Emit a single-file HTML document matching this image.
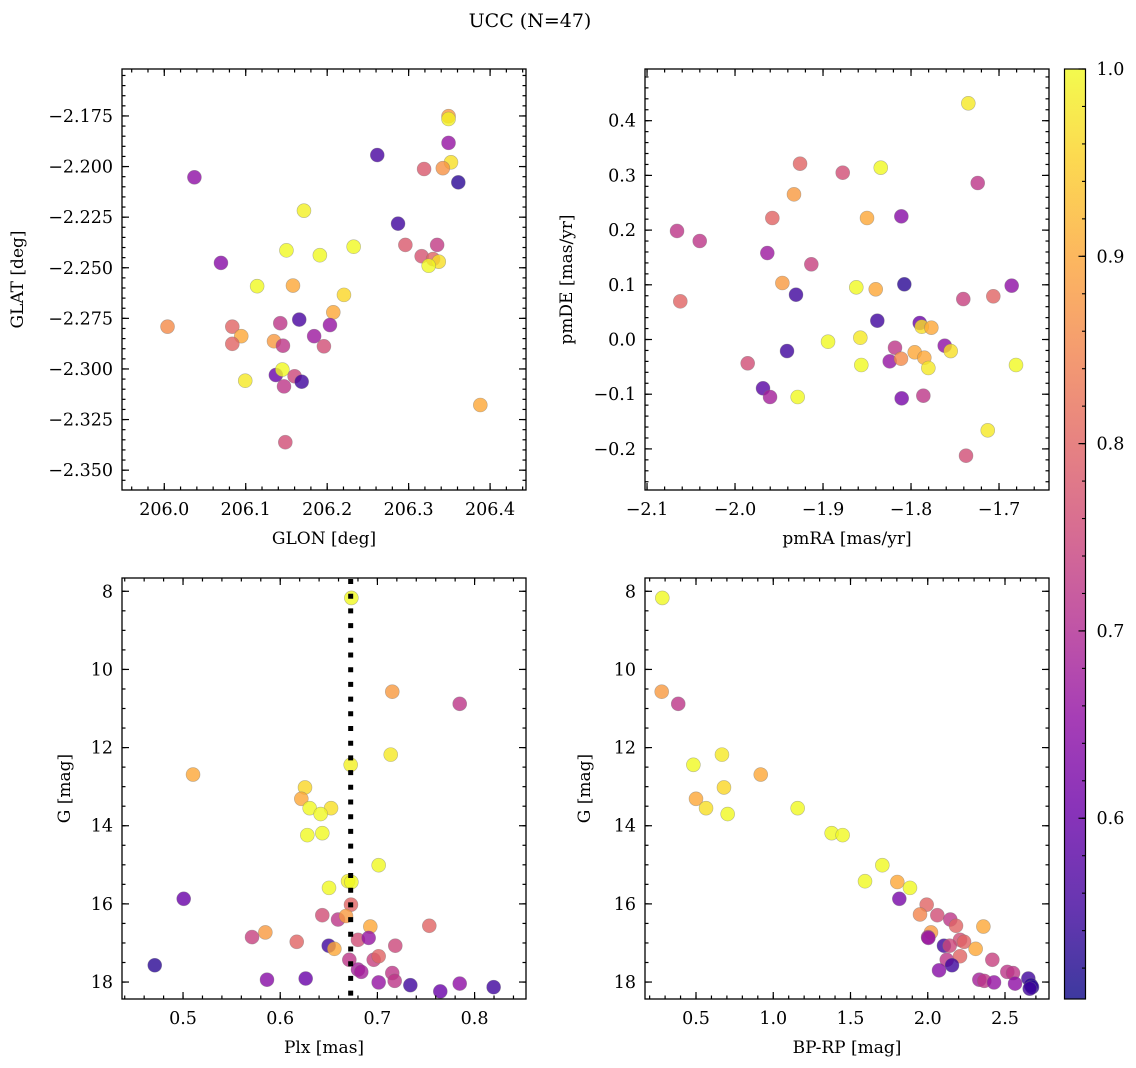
<!DOCTYPE html>
<html><head><meta charset="utf-8"><style>
html,body{margin:0;padding:0;background:#fff;}
svg{display:block;font-family:"DejaVu Serif","Liberation Serif",serif;}
</style></head><body>
<svg id="fig" width="1136" height="1068" viewBox="0 0 1136 1068" xmlns="http://www.w3.org/2000/svg">
<defs>
<linearGradient id="plasma" x1="0" y1="1" x2="0" y2="0">
<stop offset="0" stop-color="#0d0887"/><stop offset="0.1" stop-color="#41049d"/><stop offset="0.2" stop-color="#6a00a8"/><stop offset="0.3" stop-color="#8f0da4"/><stop offset="0.4" stop-color="#b12a90"/><stop offset="0.5" stop-color="#cc4778"/><stop offset="0.6" stop-color="#e16462"/><stop offset="0.7" stop-color="#f2844b"/><stop offset="0.8" stop-color="#fca636"/><stop offset="0.9" stop-color="#fcce25"/><stop offset="1" stop-color="#f0f921"/>
</linearGradient>
</defs>
<text x="530" y="27" font-size="19" text-anchor="middle">UCC (N=47)</text>
</svg>
<script>
// ---- data ----
const tlLon=[206.037,206.2615,206.349,206.349,206.349,206.352,206.319,206.342,206.361,206.1715,206.287,206.0696,206.150,206.191,206.2325,206.296,206.335,206.316,206.330,206.337,206.3246,206.114,206.158,206.2206,206.2075,206.004,206.0835,206.1424,206.1657,206.2034,206.0945,206.0835,206.1347,206.1457,206.184,206.196,206.0994,206.137,206.145,206.160,206.1687,206.147,206.388,206.1486];
const tlLat=[-2.2053,-2.1943,-2.1751,-2.1765,-2.1883,-2.1979,-2.2012,-2.2008,-2.2078,-2.2218,-2.2282,-2.2476,-2.2414,-2.2438,-2.2396,-2.2387,-2.2387,-2.2443,-2.2457,-2.2470,-2.249,-2.2591,-2.2588,-2.2634,-2.272,-2.2791,-2.2791,-2.2774,-2.2756,-2.2783,-2.2838,-2.2876,-2.2863,-2.2885,-2.2838,-2.2888,-2.3058,-2.303,-2.3003,-2.3036,-2.3063,-2.3086,-2.3178,-2.3362];
const tlProb=[0.65,0.56,0.88,0.99,0.66,0.97,0.78,0.87,0.53,0.99,0.55,0.64,1.0,1.0,1.0,0.78,0.73,0.77,0.8,0.97,1.0,1.0,0.9,0.96,0.9,0.86,0.8,0.72,0.56,0.66,0.9,0.8,0.88,0.72,0.67,0.76,0.98,0.6,1.0,0.75,0.55,0.72,0.9,0.76];

const trRA=[-1.7349,-1.9261,-1.8776,-1.8344,-1.7242,-1.933,-1.9576,-1.85,-1.811,-2.0659,-2.0401,-1.9633,-1.9133,-1.9462,-1.9307,-2.0622,-1.8622,-1.8401,-1.8076,-1.7406,-1.7065,-1.6856,-1.8383,-1.7901,-1.7878,-1.7769,-1.8943,-1.8576,-1.9409,-1.8182,-1.7617,-1.7549,-1.7958,-1.9856,-1.8242,-1.8114,-1.7849,-1.8565,-1.7803,-1.6807,-1.9682,-1.9602,-1.9288,-1.8106,-1.786,-1.7128,-1.7375];
const trDE=[0.4318,0.3214,0.3049,0.3141,0.2861,0.2654,0.2221,0.2221,0.2252,0.1984,0.1801,0.1581,0.1375,0.1033,0.0819,0.0698,0.0954,0.0918,0.1009,0.074,0.079,0.0984,0.0344,0.0302,0.0234,0.0216,-0.004,0.0033,-0.0211,-0.015,-0.0113,-0.0211,-0.0234,-0.0435,-0.0399,-0.0351,-0.0333,-0.0466,-0.0521,-0.0466,-0.0892,-0.1051,-0.1051,-0.1075,-0.1027,-0.166,-0.2124];
const trProb=[0.98,0.8,0.76,1.0,0.72,0.88,0.8,0.9,0.64,0.72,0.72,0.67,0.74,0.88,0.55,0.8,1.0,0.9,0.53,0.74,0.8,0.65,0.55,0.6,0.97,0.9,1.0,0.98,0.55,0.72,0.65,0.97,0.9,0.76,0.66,0.86,0.9,1.0,0.98,1.0,0.58,0.68,1.0,0.62,0.72,0.98,0.76];

const blPlx=[0.6732,0.7153,0.7847,0.7137,0.6725,0.5103,0.6255,0.6217,0.6303,0.6523,0.6416,0.6279,0.6433,0.7013,0.6502,0.6698,0.6732,0.5007,0.6728,0.6433,0.6595,0.6677,0.7534,0.6927,0.5847,0.571,0.617,0.68,0.691,0.7184,0.6499,0.6557,0.6711,0.6962,0.7013,0.4709,0.68,0.6834,0.7153,0.7178,0.7013,0.5864,0.6262,0.7339,0.7647,0.7847,0.8196];
const blG=[8.17,10.57,10.88,12.18,12.44,12.69,13.02,13.31,13.55,13.55,13.70,14.24,14.19,15.01,15.59,15.42,15.44,15.87,16.02,16.29,16.40,16.31,16.56,16.58,16.73,16.85,16.97,16.92,16.87,17.07,17.07,17.15,17.43,17.43,17.34,17.57,17.68,17.74,17.77,17.97,18.01,17.94,17.91,18.08,18.24,18.04,18.13];
const blProb=[1.0,0.88,0.72,0.98,0.99,0.9,0.96,0.9,1.0,0.97,1.0,1.0,1.0,1.0,1.0,0.99,1.0,0.6,0.8,0.76,0.72,0.88,0.8,0.9,0.88,0.74,0.8,0.76,0.66,0.75,0.55,0.9,0.72,0.74,0.8,0.53,0.68,0.68,0.72,0.72,0.66,0.64,0.6,0.55,0.6,0.65,0.55];
const plxLine=0.6725;

const brCol=[0.282,0.278,0.385,0.668,0.483,0.919,0.681,0.5,0.565,1.158,0.705,1.378,1.449,1.706,1.594,1.803,1.885,1.816,1.993,1.95,2.062,2.146,2.183,2.36,2.021,2.002,2.004,2.209,2.235,2.105,2.142,2.31,2.123,2.209,2.418,2.157,2.073,2.515,2.552,2.334,2.366,2.429,2.565,2.651,2.668,2.675,2.66];
const brG=[8.17,10.57,10.88,12.18,12.44,12.69,13.02,13.31,13.55,13.55,13.70,14.19,14.24,15.01,15.42,15.44,15.59,15.87,16.02,16.27,16.29,16.40,16.56,16.58,16.73,16.85,16.87,16.92,16.97,17.07,17.07,17.15,17.43,17.34,17.43,17.57,17.70,17.74,17.77,17.94,17.97,18.01,18.04,17.91,18.08,18.13,18.17];
const brProb=[1.0,0.88,0.72,0.98,1.0,0.9,0.96,0.9,0.97,1.0,1.0,1.0,1.0,1.0,1.0,0.9,1.0,0.62,0.8,0.85,0.76,0.72,0.8,0.9,0.88,0.72,0.66,0.76,0.8,0.55,0.75,0.9,0.72,0.8,0.74,0.55,0.64,0.72,0.72,0.68,0.72,0.66,0.65,0.55,0.53,0.53,0.55];

const tlXTicks=[206.0,206.1,206.2,206.3,206.4];
const tlYTicks=[-2.175,-2.2,-2.225,-2.25,-2.275,-2.3,-2.325,-2.35];
const trXTicks=[-2.1,-2.0,-1.9,-1.8,-1.7];
const trYTicks=[0.4,0.3,0.2,0.1,0.0,-0.1,-0.2];
const blXTicks=[0.5,0.6,0.7,0.8];
const gTicks=[8,10,12,14,16,18];
const brXTicks=[0.5,1.0,1.5,2.0,2.5];
const cbTicks=[0.6,0.7,0.8,0.9,1.0];
const vmin=0.5035, vmax=1.0;

// ---- rendering ----
const NS='http://www.w3.org/2000/svg';
const svg=document.getElementById('fig');
const stops=['#0d0887','#41049d','#6a00a8','#8f0da4','#b12a90','#cc4778','#e16462','#f2844b','#fca636','#fcce25','#f0f921'];
function hex(h){return [parseInt(h.substr(1,2),16),parseInt(h.substr(3,2),16),parseInt(h.substr(5,2),16)];}
function cmap(p){let t=(p-vmin)/(vmax-vmin);t=Math.max(0,Math.min(1,t))*10;const i=Math.min(9,Math.floor(t)),f=t-i;const a=hex(stops[i]),b=hex(stops[i+1]);return 'rgb('+a.map((v,k)=>Math.round(v+(b[k]-v)*f)).join(',')+')';}
function mk(tag,attrs,parent){const e=document.createElementNS(NS,tag);for(const k in attrs)e.setAttribute(k,attrs[k]);(parent||svg).appendChild(e);return e;}
function fmt(v,d){const s=v.toFixed(d);return v<0?'\u2212'+s.substr(1):s;}
const TFS=17.5, LFS=17;

function panel(name,px0,py0,px1,py1,xmin,xmax,ymin,ymax,yinv,xt,xd,xminor,yt,yd,yminor,xlabel,ylabel,ylx,xs,ys,ps){
  const g=mk('g',{});
  
  
  const X=v=>px0+(v-xmin)/(xmax-xmin)*(px1-px0);
  const Y=v=>yinv? py0+(v-ymin)/(ymax-ymin)*(py1-py0) : py1-(v-ymin)/(ymax-ymin)*(py1-py0);
  const pts=mk('g',{},g);
  
  
  for(let i=0;i<xs.length;i++){
    const c=mk('circle',{cx:X(xs[i]).toFixed(2),cy:Y(ys[i]).toFixed(2),r:7,fill:cmap(ps[i]),'fill-opacity':0.8,stroke:'#777','stroke-opacity':0.5,'stroke-width':0.6},pts);
    
    
  }
  const ax=mk('g',{stroke:'#000','stroke-width':1.2},g);
  
  
  const lo=Math.min(xmin,xmax),hi=Math.max(xmin,xmax);
  for(let v=Math.ceil(lo/xminor-1e-6)*xminor;v<=hi+1e-9;v+=xminor){const x=X(v);mk('line',{x1:x,y1:py1,x2:x,y2:py1-3.5},ax);mk('line',{x1:x,y1:py0,x2:x,y2:py0+3.5},ax);}
  const ylo=Math.min(ymin,ymax),yhi=Math.max(ymin,ymax);
  for(let v=Math.ceil(ylo/yminor-1e-6)*yminor;v<=yhi+1e-9;v+=yminor){const y=Y(v);mk('line',{x1:px0,y1:y,x2:px0+3.5,y2:y},ax);mk('line',{x1:px1,y1:y,x2:px1-3.5,y2:y},ax);}
  xt.forEach(v=>{const x=X(v);mk('line',{x1:x,y1:py1,x2:x,y2:py1-7},ax);mk('line',{x1:x,y1:py0,x2:x,y2:py0+7},ax);
    const t=mk('text',{x:x,y:py1+25,'font-size':TFS,'text-anchor':'middle',stroke:'none'},g);t.textContent=fmt(v,xd);
    });
  yt.forEach(v=>{const y=Y(v);mk('line',{x1:px0,y1:y,x2:px0+7,y2:y},ax);mk('line',{x1:px1,y1:y,x2:px1-7,y2:y},ax);
    const t=mk('text',{x:px0-9,y:y+6,'font-size':TFS,'text-anchor':'end',stroke:'none'},g);t.textContent=fmt(v,yd);
    });
  const fr=mk('rect',{x:px0,y:py0,width:px1-px0,height:py1-py0,fill:'none',stroke:'#000','stroke-width':1.3},g);
  
  const xl=mk('text',{x:(px0+px1)/2,y:py1+54,'font-size':LFS,'text-anchor':'middle'},g);xl.textContent=xlabel;
  
  const cy=(py0+py1)/2;
  const yl=mk('text',{x:ylx,y:cy,'font-size':LFS,'text-anchor':'middle',transform:'rotate(-90 '+ylx+' '+cy+')'},g);yl.textContent=ylabel;
  
  return {X,Y,g};
}

panel('sky',122,69,526,490,205.9481,206.4441,-2.3598,-2.1518,false,tlXTicks,1,0.02,tlYTicks,3,0.005,'GLON [deg]','GLAT [deg]',23,tlLon,tlLat,tlProb);
panel('proper-motion',645,69,1049,490,-2.1023,-1.6432,-0.2751,0.4945,false,trXTicks,1,0.02,trYTicks,1,0.02,'pmRA [mas/yr]','pmDE [mas/yr]',572,trRA,trDE,trProb);
const bl=panel('plx-mag',122,578,526,999,0.4372,0.8529,7.66,18.434,true,blXTicks,1,0.02,gTicks,0,0.5,'Plx [mas]','G [mag]',70,blPlx,blG,blProb);
panel('cmd',645,578,1049,999,0.1699,2.7848,7.66,18.434,true,brXTicks,1,0.1,gTicks,0,0.5,'BP-RP [mag]','G [mag]',590,brCol,brG,brProb);

const lx=bl.X(plxLine);
const dl=mk('line',{x1:lx,y1:579,x2:lx,y2:998,stroke:'#000','stroke-width':5,'stroke-dasharray':'5 9.7'});



// colorbar
const cb=mk('g',{});


const cbx0=1064.5,cbx1=1085.5,cby0=69,cby1=999;
mk('rect',{x:cbx0,y:cby0,width:cbx1-cbx0,height:cby1-cby0,fill:'url(#plasma)','fill-opacity':0.8},cb);
mk('rect',{x:cbx0,y:cby0,width:cbx1-cbx0,height:cby1-cby0,fill:'none',stroke:'#000','stroke-width':1.2},cb);
const CY=v=>cby1-(v-vmin)/(vmax-vmin)*(cby1-cby0);
for(let v=0.52;v<=1.0001;v+=0.02){const y=CY(v);mk('line',{x1:cbx1,y1:y,x2:cbx1-3.5,y2:y,stroke:'#000','stroke-width':1.1},cb);}
cbTicks.forEach(v=>{const y=CY(v);mk('line',{x1:cbx1,y1:y,x2:cbx1-7,y2:y,stroke:'#000','stroke-width':1.2},cb);
  const t=mk('text',{x:cbx1+11,y:y+6,'font-size':TFS},cb);t.textContent=v.toFixed(1);
  });
</script>
</body></html>
